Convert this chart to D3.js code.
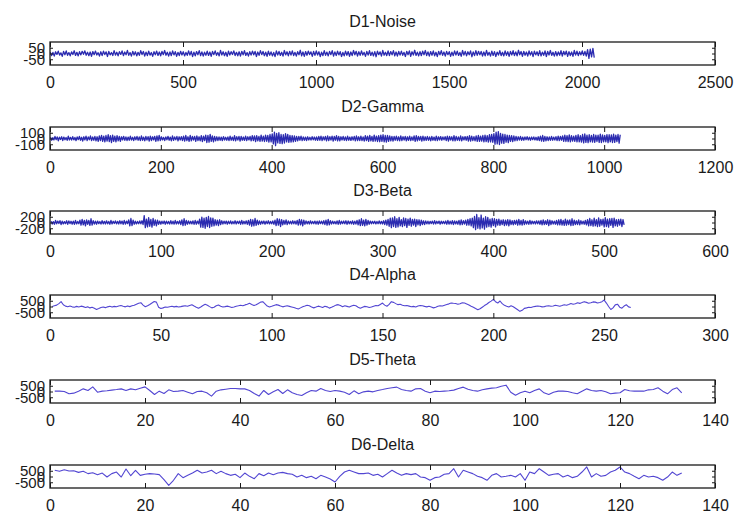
<!DOCTYPE html>
<html>
<head>
<meta charset="utf-8">
<script src="https://cdn.jsdelivr.net/npm/d3@7"></script>
<style>
  body { margin: 0; background: #fff; }
  svg { display: block; font-family: "Liberation Sans", Arial, sans-serif; }
  .axis text { fill: #1a1a1a; }
  .axis line { stroke: #1a1a1a; }
  .title { fill: #1a1a1a; font-size: 16px; text-anchor: middle; }
</style>
</head>
<body>
<svg width="736" height="513"></svg>
<script>
const titles = ["D1-Noise", "D2-Gamma", "D3-Beta", "D4-Alpha", "D5-Theta", "D6-Delta"];
const xMax = [2500, 1200, 600, 300, 140, 140];
const xTickStep = [500, 200, 100, 50, 20, 20];
const yMax = [100, 200, 400, 1000, 1000, 1000];
const yTicks = [[-50, 0, 50], [-100, 0, 100], [-200, 0, 200], [-500, 0, 500], [-500, 0, 500], [-500, 0, 500]];
// sample spacing of each stored series (D1 kept every 5th sample, D2 every 2nd)
const sampleStep = [5, 2, 1, 1, 1, 1];

const d1Noise = [
  12,-18,9,-22,15,-8,20,-14,6,-25,18,-11,22,-16,8,-20,14,-9,24,-17,
  10,-21,16,-12,19,-7,23,-15,11,-19,13,-24,17,-10,21,-13,7,-22,15,-18,
  20,-9,14,-26,18,-12,9,-17,25,-14,11,-20,16,-8,22,-19,13,-11,27,-16,
  8,-23,19,-13,15,-21,10,-16,24,-9,17,-22,12,-18,20,-14,9,-25,16,-11,
  21,-17,13,-20,18,-10,26,-15,11,-23,14,-19,22,-12,16,-24,10,-18,19,-13,
  15,-21,9,-16,23,-14,18,-26,12,-20,17,-11,25,-19,14,-22,11,-15,20,-17,
  13,-24,18,-10,22,-16,9,-21,27,-13,15,-19,11,-25,20,-14,16,-9,23,-18,
  10,-20,15,-23,19,-12,24,-17,8,-22,16,-14,21,-11,18,-26,13,-16,25,-10,
  17,-19,12,-24,20,-15,14,-21,9,-27,22,-13,18,-17,11,-23,26,-12,15,-20,
  19,-14,23,-18,10,-22,16,-11,28,-20,13,-25,17,-15,21,-9,14,-24,18,-16,
  22,-13,15,-27,11,-19,25,-16,12,-21,18,-10,24,-23,14,-17,20,-12,16,-26,
  9,-20,21,-15,17,-24,13,-18,26,-11,19,-22,15,-16,23,-13,10,-25,18,-14,
  24,-17,12,-21,16,-28,20,-10,14,-23,27,-15,11,-19,22,-18,17,-12,25,-20,
  13,-22,18,-14,21,-16,10,-26,19,-11,23,-24,15,-13,28,-17,12,-21,16,-19,
  20,-11,26,-18,14,-23,17,-15,22,-20,11,-27,19,-12,24,-16,13,-22,18,-10,
  16,-25,12,-19,23,-13,21,-17,9,-24,26,-14,18,-21,15,-11,22,-28,14,-18,
  25,-16,19,-12,17,-22,13,-20,27,-15,10,-23,21,-17,16,-26,12,-14,24,-19,
  11,-21,22,-16,15,-25,18,-13,24,-18,14,-20,28,-11,17,-24,19,-15,13,-22,
  23,-14,16,-27,20,-12,15,-19,25,-21,12,-16,22,-26,18,-13,26,-17,11,-23,
  17,-20,14,-15,24,-22,19,-11,21,-25,16,-18,13,-24,27,-14,20,-19,15,-12,
  22,-16,18,-23,34,-42,38,-30,45,-36
];

const d2Gamma = [
  20,-30,15,-25,35,-20,28,-40,22,-18,30,-35,25,-22,18,-32,40,-26,20,-28,
  33,-24,18,-38,27,-20,35,-30,22,-45,30,-25,40,-35,28,-22,45,-38,26,-30,
  38,-42,30,-50,45,-35,55,-48,40,-60,52,-45,65,-55,48,-70,60,-50,42,-58,
  50,-40,35,-48,30,-25,38,-32,28,-35,25,-30,40,-28,22,-36,30,-24,35,-30,
  28,-38,45,-30,25,-42,35,-28,32,-45,40,-35,30,-25,38,-50,45,-40,55,-35,
  30,-25,20,-35,28,-22,38,-30,25,-40,45,-32,28,-24,36,-42,30,-26,32,-38,
  40,-45,52,-38,30,-48,55,-42,35,-28,38,-50,46,-35,30,-40,48,-55,42,-36,
  60,-70,55,-65,72,-50,45,-60,38,-42,30,-35,28,-32,25,-38,34,-28,22,-30,
  28,-35,42,-30,25,-36,48,-40,32,-28,38,-45,35,-30,26,-34,40,-38,30,-25,
  35,-42,50,-38,45,-55,48,-40,36,-50,58,-45,40,-52,60,-48,55,-62,70,-58,
  80,-95,110,-125,90,-75,100,-85,70,-90,65,-78,85,-60,72,-68,55,-62,50,-58,
  45,-50,38,-42,35,-30,40,-36,28,-32,25,-35,30,-26,22,-28,32,-24,26,-30,
  28,-34,38,-30,42,-36,30,-25,35,-40,45,-38,32,-28,40,-44,36,-30,48,-42,
  35,-40,30,-26,38,-32,28,-36,42,-30,25,-34,30,-28,36,-42,45,-38,30,-35,
  40,-35,28,-45,50,-38,42,-48,55,-40,35,-50,58,-45,40,-52,48,-56,60,-50,
  65,-58,52,-62,55,-48,45,-40,38,-44,35,-30,40,-36,30,-42,46,-38,32,-28,
  36,-40,30,-34,42,-38,28,-32,45,-50,48,-42,35,-30,38,-45,40,-36,30,-34,
  38,-32,28,-40,35,-30,25,-36,42,-38,30,-26,34,-30,28,-24,32,-36,40,-45,
  35,-28,30,-40,48,-42,36,-32,28,-38,45,-40,30,-25,34,-30,38,-44,50,-46,
  42,-36,32,-40,45,-50,55,-48,40,-45,52,-58,60,-55,50,-62,68,-60,72,-65,
  85,-100,110,-95,120,-105,90,-80,75,-85,70,-65,60,-72,55,-50,48,-55,45,-40,
  38,-35,30,-28,35,-32,25,-30,28,-22,32,-26,24,-30,26,-20,28,-25,22,-30,
  30,-35,40,-45,52,-48,38,-42,30,-35,28,-32,38,-30,25,-28,32,-36,42,-38,
  35,-30,45,-50,58,-52,48,-55,62,-58,50,-45,40,-48,55,-60,65,-58,50,-62,
  70,-75,80,-68,60,-72,65,-58,55,-62,70,-66,58,-52,60,-68,75,-70,62,-58,
  55,-60,68,-72,65,-58,62,-70,75,-68,60,-55,70,-80,65
];

const d3Beta = [
  40,-55,30,-60,70,-45,50,-35,65,-70,45,-50,30,-40,60,-65,55,-38,42,-58,
  48,-62,70,-50,36,-44,80,-95,110,-85,70,-120,90,-60,75,-100,130,-90,65,-55,
  45,-60,50,-40,35,-55,62,-48,40,-52,58,-45,38,-60,70,-50,42,-36,55,-48,
  40,-52,60,-45,50,-65,72,-58,48,-40,90,-120,140,-110,80,-60,45,-50,38,-42,
  55,-48,60,-70,240,-180,120,-150,170,-130,110,-160,140,-100,90,-120,80,-65,50,-58,
  45,-40,52,-60,48,-42,38,-55,62,-50,45,-58,70,-52,40,-48,60,-75,90,-110,
  130,-95,70,-60,55,-48,42,-50,58,-65,72,-60,50,-45,120,-160,190,-170,150,-200,
  180,-140,210,-175,160,-130,150,-120,100,-90,80,-110,95,-70,60,-55,48,-42,50,-58,
  45,-40,55,-50,38,-46,60,-52,44,-38,50,-62,70,-55,42,-48,58,-66,75,-90,
  110,-130,95,-120,140,-100,80,-70,55,-60,48,-42,52,-58,45,-40,60,-50,38,-46,
  55,-65,80,-110,130,-95,120,-140,100,-85,70,-60,90,-75,55,-48,42,-52,60,-45,
  50,-58,70,-90,110,-85,95,-120,80,-65,55,-48,40,-52,58,-45,38,-42,50,-55,
  48,-60,55,-40,45,-52,62,-70,80,-95,110,-80,65,-55,48,-42,38,-50,56,-62,
  70,-58,45,-40,52,-48,60,-65,55,-45,40,-50,58,-62,48,-55,70,-80,95,-110,
  130,-100,85,-120,105,-90,70,-60,50,-45,40,-38,45,-50,36,-42,55,-48,40,-52,
  60,-70,85,-95,110,-130,150,-180,160,-140,200,-170,130,-150,180,-120,100,-140,160,-110,
  140,-170,120,-100,150,-130,110,-90,120,-140,100,-80,95,-110,85,-70,60,-75,55,-48,
  45,-52,40,-38,48,-55,62,-50,42,-36,50,-58,45,-40,38,-44,52,-60,70,-58,
  48,-55,62,-70,58,-50,45,-60,72,-80,90,-75,65,-58,80,-95,110,-90,130,-120,
  150,-180,210,-250,280,-200,170,-220,260,-190,150,-230,200,-160,180,-140,120,-160,140,-110,
  130,-150,110,-90,120,-100,85,-70,95,-110,80,-90,100,-120,90,-75,65,-80,70,-60,
  85,-95,110,-80,70,-90,100,-75,60,-55,48,-62,70,-58,50,-45,40,-52,58,-48,
  55,-62,70,-80,90,-75,60,-68,95,-110,85,-70,60,-55,48,-60,70,-85,95,-80,
  110,-90,75,-100,120,-95,80,-70,90,-110,130,-100,85,-70,60,-75,90,-80,65,-55,
  48,-60,70,-85,100,-120,140,-110,95,-130,150,-120,100,-140,160,-130,110,-90,120,-150,
  170,-140,120,-160,130,-100,140,-170,150,-120,100,-130,110,-90,120,-140,100,-80
];

const d4Alpha = [
  0,60,120,250,420,150,30,-20,40,-30,
  -60,10,-40,30,-10,-80,-30,-120,-60,-150,
  -260,-180,-90,-40,-100,-30,20,-50,10,-20,
  40,80,20,-30,50,-10,60,110,200,290,
  330,120,-20,60,180,310,430,380,-60,-180,
  -120,-40,-70,-20,20,-30,10,-40,-10,30,
  60,20,90,150,40,-60,-150,-40,80,190,
  110,-10,-120,-60,60,130,20,-40,-10,30,
  -20,-90,-40,20,60,110,60,140,200,280,
  180,90,150,260,380,420,230,40,-40,20,
  90,160,120,40,-30,20,60,10,-40,-90,
  -160,-220,-120,-20,40,110,60,-40,-120,-50,
  30,-20,-80,20,-30,-140,-70,20,120,160,
  80,-20,60,10,-50,40,110,60,-60,-150,
  -60,10,-20,-90,-40,30,90,60,180,300,
  120,20,180,420,360,250,160,190,110,60,
  80,30,-20,10,-40,40,90,60,10,-30,
  20,-40,-120,-60,20,70,40,110,170,230,
  310,280,260,200,240,330,300,220,130,20,
  -70,-180,-280,-200,-60,80,200,350,470,620,
  420,300,480,250,100,20,-40,60,-20,-150,
  -280,-420,-330,-160,-120,-60,-90,-20,10,40,
  20,-30,-10,40,60,20,50,110,70,20,
  80,150,110,180,260,200,240,320,270,340,
  420,360,290,330,400,380,300,350,420,560,
  300,0,-260,-120,140,200,-60,-150,40,150,-30,-80
];

const d5Theta = [
  30,30,0,-200,-145,30,230,90,400,-60,
  30,60,120,170,230,90,230,145,290,400,
  90,-260,30,-175,145,0,30,90,-60,-200,
  0,30,-115,-400,30,145,200,260,260,230,
  230,90,-175,-400,90,-260,-30,170,-175,145,
  -115,-260,-350,-115,90,30,260,90,0,90,
  30,-60,-260,60,-200,-30,30,-30,90,170,
  260,320,380,170,90,30,230,260,30,-115,
  30,0,30,60,120,260,380,200,90,30,
  145,230,290,320,460,550,-60,-320,-115,30,
  -115,90,230,-115,-260,-60,30,30,0,-115,
  -200,30,230,90,30,90,-30,-200,-145,-115,
  170,60,30,30,30,145,170,320,30,-200,
  170,320,-115
];

const d6Delta = [
  540,450,590,480,500,360,450,250,330,160,
  300,-45,250,390,-45,650,70,540,100,190,
  250,220,160,-280,-770,-330,250,-100,100,300,
  540,300,390,540,250,450,250,100,190,-100,
  300,15,-190,250,70,300,160,300,360,250,
  190,-45,100,-100,15,-190,100,-45,-220,-480,
  15,390,540,390,250,250,300,100,190,-45,
  250,540,300,100,250,160,250,-45,-100,-330,
  -100,-45,190,250,680,-45,540,390,250,15,
  -100,-330,100,250,-45,15,100,-45,250,-330,
  390,250,680,390,100,190,250,-45,100,-100,
  15,390,830,-45,250,15,100,390,540,830,
  390,250,15,-190,100,-45,15,-100,-330,-45,
  390,100,300
];

const series = [d1Noise, d2Gamma, d3Beta, d4Alpha, d5Theta, d6Delta];
const lineColors = ["#2b2bb0", "#2b2bb0", "#2b2bb0", "#5246d2", "#5246d2", "#5246d2"];

const svg = d3.select("svg");
const left = 50, right = 715, boxH = 23;
const tops = [42, 127, 211, 295, 380, 465];

titles.forEach((title, i) => {
  const top = tops[i];
  const x = d3.scaleLinear().domain([0, xMax[i]]).range([left, right]);
  const y = d3.scaleLinear().domain([-yMax[i], yMax[i]]).range([top + boxH, top]);
  const xt = d3.range(0, xMax[i] + 1, xTickStep[i]);
  const g = svg.append("g");

  g.append("text")
    .attr("class", "title")
    .attr("x", (left + right) / 2)
    .attr("y", top - 15)
    .text(title);

  // data line, clipped to the box
  g.append("clipPath").attr("id", "clip" + i)
    .append("rect").attr("x", left).attr("y", top).attr("width", right - left).attr("height", boxH);

  const line = d3.line()
    .x((d, k) => x(1 + k * sampleStep[i]))
    .y(d => y(d));

  g.append("path")
    .datum(series[i])
    .attr("clip-path", `url(#clip${i})`)
    .attr("fill", "none")
    .attr("stroke", lineColors[i])
    .attr("stroke-width", i < 3 ? 1.3 : 1.1)
    .attr("stroke-linejoin", "round")
    .attr("d", line);

  g.append("g").attr("class", "axis")
    .attr("transform", `translate(0,${top + boxH})`)
    .call(d3.axisBottom(x).tickValues(xt).tickFormat(d => String(d)).tickSizeInner(-5).tickSizeOuter(0).tickPadding(12))
    .call(a => a.select(".domain").remove())
    .selectAll("text").style("font-size", "16px");

  g.append("g").attr("class", "axis")
    .attr("transform", `translate(0,${top})`)
    .call(d3.axisTop(x).tickValues(xt).tickFormat("").tickSizeInner(-5).tickSizeOuter(0))
    .call(a => a.select(".domain").remove());

  g.append("g").attr("class", "axis")
    .attr("transform", `translate(${left},0)`)
    .call(d3.axisLeft(y).tickValues(yTicks[i]).tickFormat(d => String(d)).tickSizeInner(-3).tickSizeOuter(0).tickPadding(5))
    .call(a => a.select(".domain").remove())
    .selectAll("text").style("font-size", "15px");

  g.append("g").attr("class", "axis")
    .attr("transform", `translate(${right},0)`)
    .call(d3.axisRight(y).tickValues(yTicks[i]).tickFormat("").tickSizeInner(-3).tickSizeOuter(0))
    .call(a => a.select(".domain").remove());

  g.append("rect")
    .attr("x", left).attr("y", top)
    .attr("width", right - left).attr("height", boxH)
    .attr("fill", "none")
    .attr("stroke", "#1a1a1a")
    .attr("stroke-width", 1.3);
});
</script>
</body>
</html>
